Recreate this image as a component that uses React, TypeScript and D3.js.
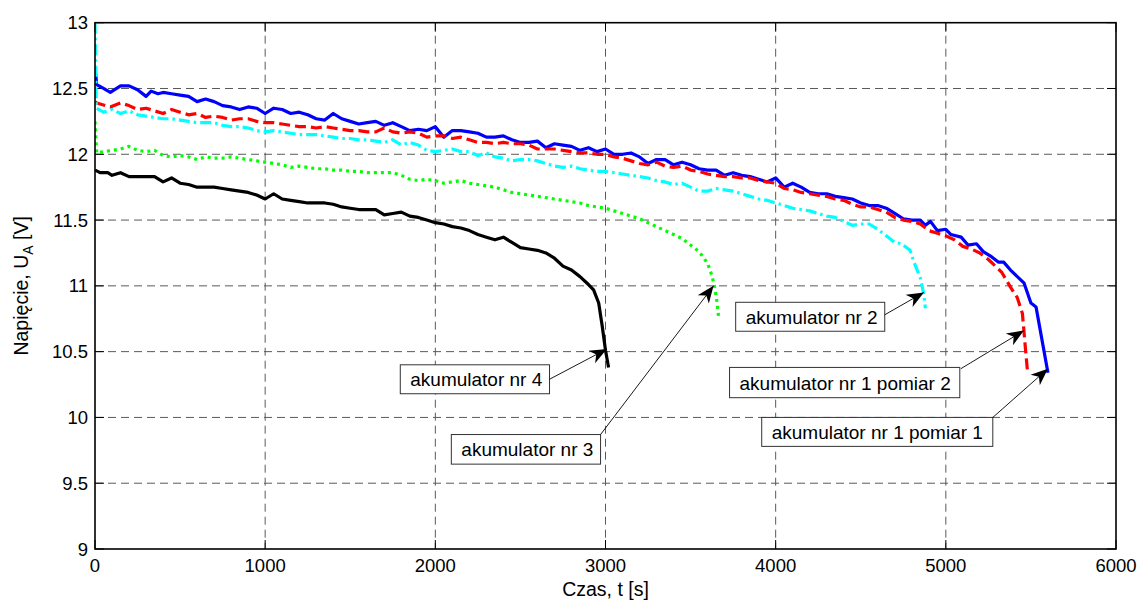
import React from "react";
import * as d3 from "d3";

// [czas s, napięcie V]
const pomiar1 = [
  [0, 12.66], [10, 12.53], [50, 12.5], [90, 12.47], [150, 12.52], [200, 12.52], [250, 12.49], [300, 12.44],
  [330, 12.48], [370, 12.46], [400, 12.47], [450, 12.46], [500, 12.45], [550, 12.44], [600, 12.4], [650, 12.42],
  [700, 12.4], [750, 12.37], [800, 12.36], [850, 12.34], [900, 12.36], [950, 12.35], [1000, 12.31], [1050, 12.35],
  [1100, 12.34], [1150, 12.31], [1200, 12.32], [1250, 12.3], [1300, 12.27], [1350, 12.26], [1400, 12.31], [1450, 12.27],
  [1500, 12.25], [1550, 12.23], [1600, 12.24], [1650, 12.25], [1700, 12.22], [1750, 12.24], [1800, 12.21], [1850, 12.18],
  [1900, 12.19], [1950, 12.18], [2000, 12.21], [2050, 12.13], [2100, 12.18], [2150, 12.18], [2200, 12.17], [2250, 12.16],
  [2300, 12.13], [2350, 12.13], [2400, 12.14], [2450, 12.11], [2500, 12.09], [2550, 12.09], [2600, 12.1], [2650, 12.05],
  [2700, 12.08], [2750, 12.07], [2800, 12.06], [2850, 12.03], [2900, 12.05], [2950, 12.02], [3000, 12.04], [3050, 12.0],
  [3100, 12.0], [3150, 12.01], [3200, 11.98], [3250, 11.93], [3300, 11.96], [3350, 11.96], [3400, 11.92], [3450, 11.94],
  [3500, 11.92], [3550, 11.89], [3600, 11.88], [3650, 11.88], [3700, 11.84], [3750, 11.86], [3800, 11.84], [3850, 11.83],
  [3900, 11.81], [3950, 11.79], [4000, 11.82], [4050, 11.75], [4100, 11.78], [4150, 11.75], [4200, 11.71], [4250, 11.7],
  [4300, 11.7], [4350, 11.68], [4400, 11.67], [4450, 11.66], [4500, 11.63], [4550, 11.61], [4600, 11.61], [4650, 11.59],
  [4700, 11.55], [4750, 11.51], [4800, 11.5], [4850, 11.5], [4880, 11.46], [4910, 11.49], [4950, 11.42], [5000, 11.43],
  [5030, 11.39], [5090, 11.37], [5130, 11.31], [5180, 11.32], [5220, 11.26], [5270, 11.22], [5310, 11.18], [5340, 11.18],
  [5380, 11.12], [5420, 11.07], [5460, 11.02], [5500, 10.87], [5530, 10.84], [5600, 10.34],
];

const pomiar2 = [
  [0, 12.4], [10, 12.39], [90, 12.36], [150, 12.39], [200, 12.37], [250, 12.34], [300, 12.35], [350, 12.33],
  [400, 12.31], [450, 12.34], [500, 12.32], [550, 12.3], [600, 12.31], [650, 12.28], [700, 12.29], [750, 12.28],
  [800, 12.26], [850, 12.27], [900, 12.27], [950, 12.25], [1000, 12.24], [1050, 12.24], [1100, 12.23], [1150, 12.22],
  [1200, 12.21], [1250, 12.21], [1300, 12.2], [1350, 12.21], [1400, 12.2], [1450, 12.19], [1500, 12.18], [1550, 12.18],
  [1600, 12.17], [1650, 12.17], [1700, 12.2], [1750, 12.17], [1800, 12.16], [1850, 12.17], [1900, 12.16], [1950, 12.13],
  [2000, 12.14], [2050, 12.14], [2100, 12.12], [2150, 12.13], [2200, 12.11], [2250, 12.09], [2300, 12.09], [2350, 12.08],
  [2400, 12.09], [2450, 12.08], [2500, 12.08], [2550, 12.07], [2600, 12.04], [2650, 12.04], [2700, 12.04], [2750, 12.03],
  [2800, 12.02], [2850, 12.01], [2900, 12.01], [2950, 12.0], [3000, 12.0], [3050, 11.98], [3100, 11.97], [3150, 11.95],
  [3200, 11.93], [3250, 11.92], [3300, 11.94], [3350, 11.91], [3400, 11.9], [3450, 11.91], [3500, 11.88], [3550, 11.87],
  [3600, 11.85], [3650, 11.84], [3700, 11.83], [3750, 11.83], [3800, 11.82], [3850, 11.82], [3900, 11.8], [3950, 11.79],
  [4000, 11.78], [4050, 11.74], [4100, 11.73], [4150, 11.71], [4200, 11.7], [4250, 11.69], [4300, 11.68], [4350, 11.66],
  [4400, 11.65], [4450, 11.62], [4500, 11.6], [4550, 11.6], [4600, 11.58], [4650, 11.56], [4700, 11.52], [4750, 11.5],
  [4800, 11.49], [4850, 11.47], [4900, 11.42], [4950, 11.4], [5000, 11.38], [5050, 11.35], [5100, 11.3], [5150, 11.28],
  [5200, 11.25], [5250, 11.2], [5300, 11.14], [5330, 11.1], [5380, 10.99], [5420, 10.91], [5450, 10.79], [5460, 10.64],
  [5470, 10.49], [5480, 10.35],
];

const akumulator2 = [
  [0, 13.0], [8, 12.35], [50, 12.32], [100, 12.34], [150, 12.31], [200, 12.33], [250, 12.3], [300, 12.29],
  [350, 12.28], [400, 12.27], [450, 12.27], [500, 12.26], [550, 12.25], [600, 12.24], [650, 12.24], [700, 12.24],
  [750, 12.22], [800, 12.21], [850, 12.21], [900, 12.2], [950, 12.18], [1000, 12.17], [1050, 12.18], [1100, 12.17],
  [1150, 12.16], [1200, 12.15], [1250, 12.15], [1300, 12.15], [1350, 12.14], [1400, 12.13], [1450, 12.12], [1500, 12.12],
  [1550, 12.11], [1600, 12.11], [1650, 12.1], [1700, 12.09], [1750, 12.11], [1800, 12.07], [1850, 12.09], [1900, 12.07],
  [1950, 12.03], [2000, 12.02], [2050, 12.03], [2100, 12.04], [2150, 12.02], [2200, 12.02], [2250, 11.99], [2300, 12.01],
  [2350, 11.98], [2400, 11.97], [2450, 11.95], [2500, 11.96], [2550, 11.96], [2600, 11.95], [2650, 11.93], [2700, 11.91],
  [2750, 11.9], [2800, 11.91], [2850, 11.89], [2900, 11.88], [2950, 11.87], [3000, 11.87], [3050, 11.86], [3100, 11.85],
  [3150, 11.84], [3200, 11.83], [3250, 11.82], [3300, 11.8], [3350, 11.79], [3400, 11.77], [3450, 11.78], [3500, 11.75],
  [3550, 11.72], [3600, 11.72], [3650, 11.74], [3700, 11.73], [3750, 11.72], [3800, 11.7], [3850, 11.68], [3900, 11.66],
  [3950, 11.65], [4000, 11.63], [4050, 11.61], [4100, 11.59], [4150, 11.58], [4200, 11.57], [4250, 11.55], [4300, 11.53],
  [4350, 11.52], [4400, 11.49], [4450, 11.46], [4500, 11.47], [4550, 11.47], [4600, 11.43], [4650, 11.38], [4700, 11.33],
  [4740, 11.32], [4790, 11.27], [4810, 11.19], [4850, 11.06], [4870, 10.94], [4880, 10.83],
];

const akumulator3 = [
  [0, 12.25], [10, 12.01], [100, 12.03], [150, 12.04], [200, 12.06], [250, 12.03], [300, 12.02], [350, 12.03],
  [400, 11.99], [450, 11.98], [500, 11.99], [550, 11.98], [600, 11.96], [650, 11.98], [700, 11.97], [750, 11.97],
  [800, 11.98], [850, 11.97], [900, 11.96], [950, 11.95], [1000, 11.94], [1050, 11.93], [1100, 11.92], [1150, 11.9],
  [1200, 11.91], [1250, 11.9], [1300, 11.89], [1350, 11.89], [1400, 11.88], [1450, 11.88], [1500, 11.87], [1550, 11.87],
  [1600, 11.86], [1650, 11.86], [1700, 11.86], [1750, 11.86], [1800, 11.84], [1850, 11.81], [1900, 11.8], [1950, 11.81],
  [2000, 11.8], [2050, 11.78], [2100, 11.79], [2150, 11.8], [2200, 11.78], [2250, 11.77], [2300, 11.76], [2350, 11.75],
  [2400, 11.73], [2450, 11.71], [2500, 11.7], [2550, 11.69], [2600, 11.68], [2650, 11.67], [2700, 11.66], [2750, 11.65],
  [2800, 11.64], [2850, 11.63], [2900, 11.61], [2950, 11.6], [3000, 11.59], [3050, 11.57], [3100, 11.55], [3150, 11.53],
  [3200, 11.51], [3250, 11.48], [3300, 11.45], [3350, 11.42], [3400, 11.39], [3450, 11.36], [3500, 11.31], [3550, 11.26],
  [3600, 11.17], [3625, 11.08], [3640, 11.0], [3655, 10.88], [3665, 10.76],
];

const akumulator4 = [
  [0, 11.88], [30, 11.86], [75, 11.86], [100, 11.84], [150, 11.86], [200, 11.83], [250, 11.83], [300, 11.83],
  [350, 11.83], [400, 11.79], [450, 11.82], [500, 11.78], [550, 11.77], [600, 11.75], [650, 11.75], [700, 11.75],
  [750, 11.74], [800, 11.73], [850, 11.72], [900, 11.71], [950, 11.69], [1000, 11.66], [1050, 11.7], [1100, 11.66],
  [1150, 11.65], [1200, 11.64], [1250, 11.63], [1300, 11.63], [1350, 11.63], [1400, 11.62], [1450, 11.6], [1500, 11.59],
  [1550, 11.58], [1600, 11.58], [1650, 11.58], [1700, 11.54], [1750, 11.55], [1800, 11.56], [1850, 11.53], [1900, 11.52],
  [1950, 11.5], [2000, 11.48], [2050, 11.47], [2100, 11.45], [2150, 11.44], [2200, 11.42], [2250, 11.39], [2300, 11.37],
  [2350, 11.35], [2400, 11.37], [2450, 11.33], [2500, 11.29], [2550, 11.28], [2600, 11.27], [2650, 11.25], [2700, 11.21],
  [2750, 11.15], [2800, 11.12], [2850, 11.07], [2900, 11.01], [2930, 10.97], [2960, 10.87], [2980, 10.7], [3000, 10.51],
  [3018, 10.38],
];

const xTicks = [0, 1000, 2000, 3000, 4000, 5000, 6000];
const yTicks = [9, 9.5, 10, 10.5, 11, 11.5, 12, 12.5, 13];

// opisy ze strzałkami: ramka (lewo, góra, prawo, dół), początek i grot strzałki
const opisy = [
  { text: "akumulator nr 4", box: [1794, 10.4, 2671, 10.18], tail: [2671, 10.29], head: [3008, 10.52] },
  { text: "akumulator nr 3", box: [2094, 9.87, 2971, 9.645], tail: [2971, 9.87], head: [3635, 11.0] },
  { text: "akumulator nr 2", box: [3765, 10.875, 4641, 10.655], tail: [4641, 10.78], head: [4871, 10.95] },
  { text: "akumulator nr 1 pomiar 2", box: [3729, 10.38, 5082, 10.15], tail: [5088, 10.37], head: [5459, 10.66] },
  { text: "akumulator nr 1 pomiar 1", box: [3918, 10.0, 5276, 9.78], tail: [5276, 10.0], head: [5600, 10.37] },
];

const serie = [
  { data: pomiar1, color: "#0000ff", dash: null },
  { data: pomiar2, color: "#ff0000", dash: "11,5" },
  { data: akumulator2, color: "#00ffff", dash: "11,4,2.5,4" },
  { data: akumulator3, color: "#00ff00", dash: "3,4" },
  { data: akumulator4, color: "#000000", dash: null },
];

const FONT = "Arial, 'Liberation Sans', Helvetica, sans-serif";

function Arrow({ x1, y1, x2, y2 }) {
  const ang = (Math.atan2(y2 - y1, x2 - x1) * 180) / Math.PI;
  return (
    <g>
      <line x1={x1} y1={y1} x2={x2} y2={y2} stroke="#000" strokeWidth={0.9} />
      <path
        d="M0,0 L-17,-7 L-12,0 L-17,7 Z"
        fill="#000"
        transform={`translate(${x2},${y2}) rotate(${ang})`}
      />
    </g>
  );
}

export default function App() {
  const width = 1139;
  const height = 601;
  const margin = { top: 22.7, right: 23, bottom: 52, left: 95 };

  const x = d3.scaleLinear().domain([0, 6000]).range([margin.left, width - margin.right]);
  const y = d3.scaleLinear().domain([9, 13]).range([height - margin.bottom, margin.top]);

  const line = d3
    .line()
    .x((d) => x(d[0]))
    .y((d) => y(d[1]));

  const [x0, x1] = x.range();
  const [y0, y1] = y.range();
  const tick = 9;

  return (
    <svg
      width={width}
      height={height}
      style={{ position: "absolute", left: 0, top: 0, background: "#fff" }}
      fontFamily={FONT}
    >
      <rect x={0} y={0} width={width} height={height} fill="#fff" />
      <defs>
        <clipPath id="plot">
          <rect x={x0} y={y1} width={x1 - x0} height={y0 - y1} />
        </clipPath>
      </defs>

      <g className="grid" stroke="#5a5a5a" strokeWidth={1} strokeDasharray="8,5">
        {xTicks.slice(1, -1).map((t) => (
          <line key={"gx" + t} x1={x(t)} x2={x(t)} y1={y1} y2={y0} />
        ))}
        {yTicks.slice(1, -1).map((t) => (
          <line key={"gy" + t} x1={x0} x2={x1} y1={y(t)} y2={y(t)} />
        ))}
      </g>

      <g className="ticks" stroke="#000" strokeWidth={1}>
        {xTicks.map((t) => (
          <g key={"tx" + t}>
            <line x1={x(t)} x2={x(t)} y1={y0} y2={y0 - tick} />
            <line x1={x(t)} x2={x(t)} y1={y1} y2={y1 + tick} />
          </g>
        ))}
        {yTicks.map((t) => (
          <g key={"ty" + t}>
            <line x1={x0} x2={x0 + tick} y1={y(t)} y2={y(t)} />
            <line x1={x1} x2={x1 - tick} y1={y(t)} y2={y(t)} />
          </g>
        ))}
      </g>

      <g clipPath="url(#plot)" fill="none" strokeWidth={3.2} strokeLinejoin="round">
        {serie.map((s, i) => (
          <path
            key={i}
            d={line(s.data)}
            stroke={s.color}
            strokeDasharray={s.dash || undefined}
            strokeLinecap="butt"
          />
        ))}
      </g>

      <rect x={x0} y={y1} width={x1 - x0} height={y0 - y1} fill="none" stroke="#000" strokeWidth={1.6} />

      <g fontSize={18.5} fill="#000">
        {xTicks.map((t) => (
          <text key={"lx" + t} x={x(t)} y={y0 + 23} textAnchor="middle">
            {t}
          </text>
        ))}
        {yTicks.map((t) => (
          <text key={"ly" + t} x={x0 - 7} y={y(t) + 6.5} textAnchor="end">
            {t}
          </text>
        ))}
      </g>

      <text x={(x0 + x1) / 2} y={596} fontSize={19.5} textAnchor="middle">
        Czas, t [s]
      </text>
      <text
        transform={`translate(28,${(y0 + y1) / 2}) rotate(-90)`}
        fontSize={19.5}
        textAnchor="middle"
      >
        Napięcie, U
        <tspan fontSize={14} dy={5}>A</tspan>
        <tspan dy={-5}> [V]</tspan>
      </text>

      <g className="opisy">
        {opisy.map((o) => (
          <g key={o.text}>
            <rect
              x={x(o.box[0])}
              y={y(o.box[1])}
              width={x(o.box[2]) - x(o.box[0])}
              height={y(o.box[3]) - y(o.box[1])}
              fill="#fff"
              stroke="#333"
              strokeWidth={1}
            />
            <text
              x={x(o.box[0]) + 10}
              y={(y(o.box[1]) + y(o.box[3])) / 2 + 7}
              fontSize={19}
              fill="#000"
            >
              {o.text}
            </text>
            <Arrow x1={x(o.tail[0])} y1={y(o.tail[1])} x2={x(o.head[0])} y2={y(o.head[1])} />
          </g>
        ))}
      </g>
    </svg>
  );
}
